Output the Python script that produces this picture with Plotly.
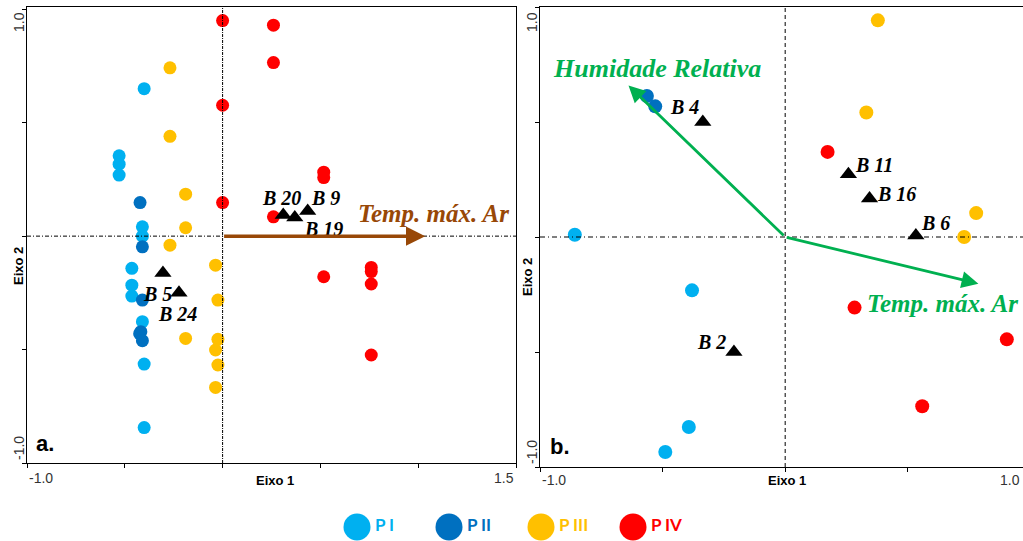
import plotly.graph_objects as go

W, H = 1023, 541

# ---------------- Data: panel a ----------------
a_PI_x = [-0.401, -0.529, -0.529, -0.529, -0.41, -0.41, -0.464, -0.464, -0.464, -0.41, -0.401, -0.401]
a_PI_y = [0.65, 0.354, 0.317, 0.269, 0.041, 0.0, -0.142, -0.216, -0.264, -0.377, -0.564, -0.844]
a_PII_x = [-0.422, -0.41, -0.41, -0.418, -0.424, -0.41]
a_PII_y = [0.148, -0.047, -0.282, -0.421, -0.430, -0.461]
a_PIII_x = [-0.269, -0.269, -0.189, -0.189, -0.269, -0.036, -0.024, -0.189, -0.024, -0.036, -0.024, -0.036]
a_PIII_y = [0.742, 0.44, 0.185, 0.037, -0.04, -0.128, -0.282, -0.451, -0.455, -0.502, -0.568, -0.667]
a_PIV_x = [0.0, 0.26, 0.26, 0.0, 0.0, 0.26, 0.517, 0.517, 0.517, 0.76, 0.76, 0.76, 0.76]
a_PIV_y = [0.95, 0.93, 0.765, 0.577, 0.148, 0.085, 0.282, 0.258, -0.179, -0.138, -0.156, -0.211, -0.524]

a_st_names = ["B 5", "B 24", "B 20", "B 19", "B 9"]
a_st_x = [-0.305, -0.223, 0.31, 0.369, 0.435]
a_st_y = [-0.162, -0.25, 0.093, 0.082, 0.111]

a_vec_names = ["Temp. máx. Ar"]
a_vec_x = [1.036]
a_vec_y = [0.0]

# ---------------- Data: panel b ----------------
b_PI_x = [-0.858, -0.38, -0.393, -0.489]
b_PI_y = [0.01, -0.232, -0.826, -0.935]
b_PII_x = [-0.564, -0.53]
b_PII_y = [0.613, 0.568]
b_PIII_x = [0.378, 0.331, 0.779, 0.73]
b_PIII_y = [0.942, 0.541, 0.104, 0.0]
b_PIV_x = [0.173, 0.283, 0.904, 0.559]
b_PIV_y = [0.37, -0.307, -0.445, -0.736]

b_st_names = ["B 4", "B 2", "B 11", "B 16", "B 6"]
b_st_x = [-0.336, -0.209, 0.258, 0.344, 0.533]
b_st_y = [0.5, -0.5, 0.273, 0.167, 0.007]

b_vec_names = ["Humidade Relativa", "Temp. máx. Ar"]
b_vec_x = [-0.639, 0.788]
b_vec_y = [0.659, -0.203]

groups = ["P I", "P II", "P III", "P IV"]
colors = ["#00B0F0", "#0070C0", "#FFC000", "#FF0000"]

# ---------------- styles / layout helpers ----------------
a_label_off = [(-5, -21), (-1, -21), (-2, 17), (29, -11), (18, 13)]
b_label_off = [(-18, 15), (-22, 10), (26, 9), (27, 5), (20, 12)]

fig = go.Figure()

def add_points(xs, ys, color, xa, ya, size=13):
    fig.add_trace(go.Scatter(x=xs, y=ys, mode="markers", xaxis=xa, yaxis=ya,
                             marker=dict(size=size, color=color, line=dict(width=0)),
                             showlegend=False, hoverinfo="skip"))

for xs, ys, c in zip([a_PI_x, a_PII_x, a_PIII_x, a_PIV_x], [a_PI_y, a_PII_y, a_PIII_y, a_PIV_y], colors):
    add_points(xs, ys, c, "x", "y")
for xs, ys, c in zip([b_PI_x, b_PII_x, b_PIII_x, b_PIV_x], [b_PI_y, b_PII_y, b_PIII_y, b_PIV_y], colors):
    add_points(xs, ys, c, "x2", "y2", size=14)

# stations
fig.add_trace(go.Scatter(x=a_st_x, y=a_st_y, mode="markers", xaxis="x", yaxis="y",
                         marker=dict(symbol="triangle-up", size=15, color="black"),
                         showlegend=False, hoverinfo="skip"))
fig.add_trace(go.Scatter(x=b_st_x, y=b_st_y, mode="markers", xaxis="x2", yaxis="y2",
                         marker=dict(symbol="triangle-up", size=15, color="black"),
                         showlegend=False, hoverinfo="skip"))

# legend row (custom, larger markers)
fig.add_trace(go.Scatter(x=list(range(len(groups))), y=[0] * len(groups), mode="markers+text",
                         xaxis="x3", yaxis="y3",
                         marker=dict(size=27, color=colors),
                         text=["<b>" + g + "</b>" for g in groups], textposition="middle right",
                         textfont=dict(family="Lato", size=17, color=colors),
                         showlegend=False, hoverinfo="skip"))

ann = []
serif = dict(family="Liberation Serif", size=20, color="black")
for n, x, y, (dx, dy) in zip(a_st_names, a_st_x, a_st_y, a_label_off):
    ann.append(dict(x=x, y=y, xref="x", yref="y", text="<b><i>" + n + "</i></b>", showarrow=False,
                    xanchor="center", yanchor="middle", xshift=dx, yshift=dy, font=serif))
for n, x, y, (dx, dy) in zip(b_st_names, b_st_x, b_st_y, b_label_off):
    ann.append(dict(x=x, y=y, xref="x2", yref="y2", text="<b><i>" + n + "</i></b>", showarrow=False,
                    xanchor="center", yanchor="middle", xshift=dx, yshift=dy, font=serif))

# vectors
brown = "#984807"
green = "#00B050"
for n, x, y in zip(a_vec_names, a_vec_x, a_vec_y):
    ann.append(dict(x=x, y=y, ax=0, ay=0, xref="x", yref="y", axref="x", ayref="y", text="",
                    showarrow=True, arrowhead=2, arrowsize=1.1, arrowwidth=3.5, arrowcolor=brown,
                    standoff=0, startstandoff=0))
    ann.append(dict(x=x, y=y, xref="x", yref="y", text="<b><i>" + n + "</i></b>", showarrow=False,
                    xanchor="center", yanchor="middle",
                    xshift=8, yshift=23, font=dict(family="Liberation Serif", size=25, color=brown)))
b_vec_text = [dict(xshift=28, yshift=17, xanchor="center", size=26),
              dict(xshift=-113, yshift=-20, xanchor="left", size=25)]
for n, x, y, st in zip(b_vec_names, b_vec_x, b_vec_y, b_vec_text):
    ann.append(dict(x=x, y=y, ax=0, ay=0, xref="x2", yref="y2", axref="x2", ayref="y2", text="",
                    showarrow=True, arrowhead=2, arrowsize=1.2, arrowwidth=2.8, arrowcolor=green,
                    standoff=0, startstandoff=0))
    ann.append(dict(x=x, y=y, xref="x2", yref="y2", text="<b><i>" + n + "</i></b>", showarrow=False,
                    yanchor="middle", xanchor=st["xanchor"], xshift=st["xshift"], yshift=st["yshift"],
                    font=dict(family="Liberation Serif", size=st["size"], color=green)))

tickfont = dict(family="Liberation Sans, Arial", size=14, color="#333")
boldfont = dict(family="Liberation Sans, Arial", size=13, color="black")

def px2x(p):
    return p / W

def px2y(p):
    return 1 - p / H

def pa(xp, yp, text, font, angle=0, xanchor="center"):
    return dict(x=px2x(xp), y=px2y(yp), xref="paper", yref="paper", text=text, showarrow=False,
                textangle=angle, xanchor=xanchor, yanchor="middle", font=font)

# tick labels (justified to axis ends)
ann += [
    dict(x=-1.0, y=px2y(478), xref="x", yref="paper", text="-1.0", showarrow=False, xanchor="left", yanchor="middle", font=tickfont),
    dict(x=1.5, y=px2y(478), xref="x", yref="paper", text="1.5", showarrow=False, xanchor="right", yanchor="middle", font=tickfont),
    dict(x=-1.0, y=px2y(480), xref="x2", yref="paper", text="-1.0", showarrow=False, xanchor="left", yanchor="middle", font=tickfont),
    pa(1022, 480, "1.0", tickfont, xanchor="right"),
    pa(19, 22, "1.0", tickfont, -90),
    pa(19, 448, "-1.0", tickfont, -90),
    pa(532, 22, "1.0", tickfont, -90),
    pa(532, 452, "-1.0", tickfont, -90),
    pa(275, 480, "<b>Eixo 1</b>", boldfont),
    pa(787, 480, "<b>Eixo 1</b>", boldfont),
    pa(18, 266, "<b>Eixo 2</b>", boldfont, -90),
    pa(527, 277, "<b>Eixo 2</b>", boldfont, -90),
    pa(45, 443, "<b>a.</b>", dict(family="Liberation Sans, Arial", size=22, color="black")),
    pa(560, 446, "<b>b.</b>", dict(family="Liberation Sans, Arial", size=22, color="black")),
]

shapes = [
    dict(type="line", xref="x", yref="y domain", x0=0, x1=0, y0=0, y1=1,
         line=dict(color="black", width=1, dash="3px,1px,1px,1px")),
    dict(type="line", xref="x domain", yref="y", x0=0, x1=1, y0=0, y1=0,
         line=dict(color="black", width=1, dash="4px,2px,1px,2px")),
    dict(type="line", xref="x2", yref="y2 domain", x0=0, x1=0, y0=0, y1=1,
         line=dict(color="black", width=1, dash="4px,3px")),
    dict(type="line", xref="x2 domain", yref="y2", x0=0, x1=1, y0=0, y1=0,
         line=dict(color="black", width=1, dash="5px,3px,1px,3px")),
]

axcommon = dict(showgrid=False, zeroline=False, showticklabels=False, ticks="outside", ticklen=4,
                tickcolor="black", showline=True, linecolor="black", linewidth=1)

fig.update_layout(
    width=W, height=H,
    margin=dict(l=0, r=0, t=0, b=0),
    paper_bgcolor="white", plot_bgcolor="white",
    showlegend=False,
    xaxis=dict(domain=[px2x(27), px2x(516)], range=[-1, 1.5], tickvals=[-1, -0.5, 0, 0.5, 1, 1.5],
               anchor="y", mirror=True, **axcommon),
    yaxis=dict(domain=[px2y(463), px2y(7)], range=[-1, 1.01], tickvals=[-1, -0.5, 0, 0.5, 1],
               anchor="x", mirror=True, **axcommon),
    xaxis2=dict(domain=[px2x(540), 1], range=[-1, 0.97], tickvals=[-1, -0.5, 0, 0.5],
                anchor="y2", mirror=True, **axcommon),
    yaxis2=dict(domain=[px2y(467), px2y(7)], range=[-1, 1], tickvals=[-1, -0.5, 0, 0.5, 1],
                anchor="x2", mirror=False, **axcommon),
    xaxis3=dict(domain=[0, 1], range=[-357 / 92, (W - 357) / 92], visible=False, anchor="y3"),
    yaxis3=dict(domain=[0, 0.052], range=[-1, 1], visible=False, anchor="x3"),
    annotations=ann,
    shapes=shapes,
)

fig.write_html("out.html")
